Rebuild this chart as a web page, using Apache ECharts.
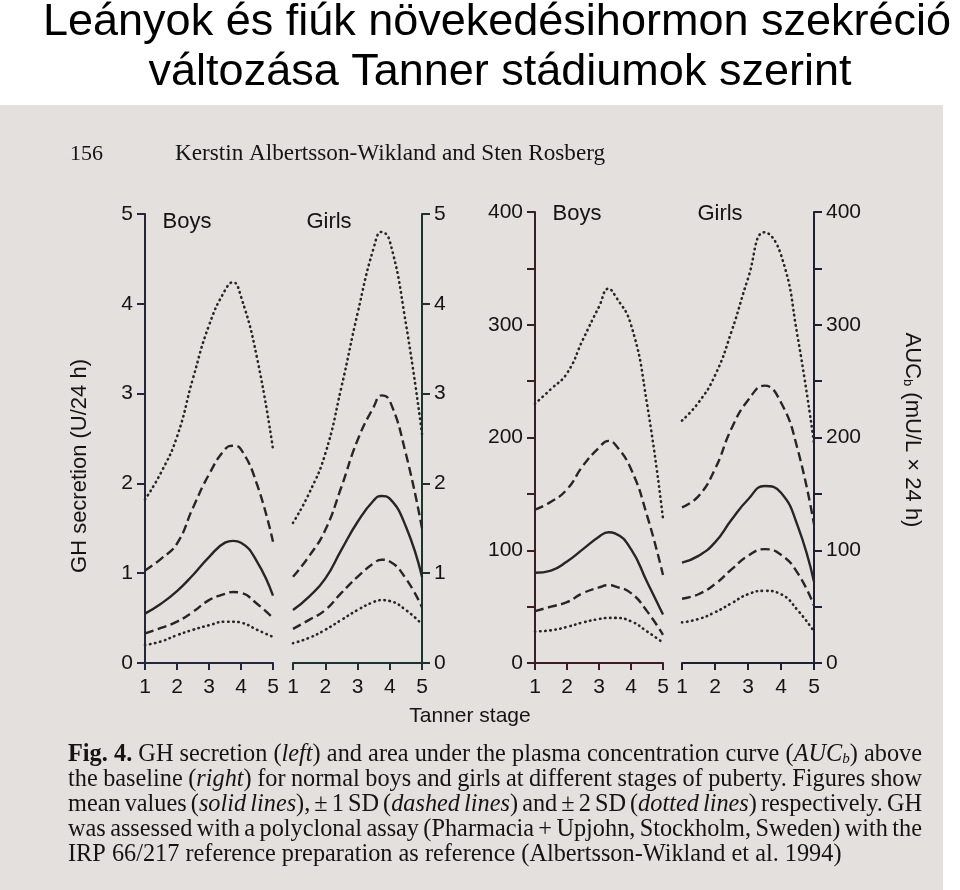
<!DOCTYPE html>
<html>
<head>
<meta charset="utf-8">
<script src="https://cdn.jsdelivr.net/npm/echarts@6/dist/echarts.min.js"></script>
<style>
html,body{margin:0;padding:0;background:#ffffff;}
#chart{width:960px;height:890px;}
</style>
</head>
<body>
<div id="chart"></div>
<script>
// ---------------- DATA ----------------
const tannerTicks = [1, 2, 3, 4, 5];

// GH secretion (U/24 h)
const ghStages      = [1, 1.5, 2, 2.5, 3, 3.5, 3.75, 4, 4.5, 5];
const ghBoysPlus2   = [1.82, 2.12, 2.52, 3.17, 3.76, 4.15, 4.24, 4.08, 3.40, 2.38];
const ghBoysPlus1   = [1.03, 1.16, 1.33, 1.73, 2.10, 2.38, 2.42, 2.38, 1.99, 1.35];
const ghBoysMean    = [0.55, 0.66, 0.80, 0.98, 1.18, 1.34, 1.36, 1.34, 1.13, 0.75];
const ghBoysMinus1  = [0.33, 0.39, 0.46, 0.57, 0.70, 0.77, 0.79, 0.78, 0.66, 0.50];
const ghBoysMinus2  = [0.20, 0.24, 0.31, 0.37, 0.42, 0.46, 0.46, 0.45, 0.37, 0.29];

const ghGirlsPlus2  = [1.56, 1.89, 2.33, 3.07, 3.89, 4.62, 4.80, 4.70, 3.78, 2.55];
const ghGirlsPlus1  = [0.96, 1.19, 1.48, 1.96, 2.48, 2.85, 2.98, 2.92, 2.33, 1.50];
const ghGirlsMean   = [0.59, 0.74, 0.94, 1.26, 1.57, 1.81, 1.86, 1.83, 1.52, 0.96];
const ghGirlsMinus1 = [0.38, 0.48, 0.59, 0.78, 0.96, 1.11, 1.15, 1.13, 0.94, 0.62];
const ghGirlsMinus2 = [0.22, 0.28, 0.37, 0.48, 0.59, 0.68, 0.70, 0.69, 0.59, 0.43];

// AUCb (mU/L x 24 h)
const aucBoysStages  = [1, 1.5, 2, 2.5, 3, 3.3, 3.5, 4, 4.5, 5];
const aucBoysPlus2   = [230, 243, 257, 287, 316, 332, 326, 300, 230, 128];
const aucBoysPlus1   = [136, 143, 154, 175, 191, 197, 194, 172, 131, 78];
const aucBoysMean    = [80, 82, 90, 101, 112, 116, 115, 101, 72, 43];
const aucBoysMinus1  = [46, 50, 54, 62, 67, 69, 68, 62, 46, 25];
const aucBoysMinus2  = [28, 29, 32, 36, 39, 40, 40, 37, 28, 18];

const aucGirlsStages = [1, 1.5, 2, 2.5, 3, 3.5, 4, 4.5, 5];
const aucGirlsPlus2  = [215, 231, 255, 294, 341, 382, 362, 290, 195];
const aucGirlsPlus1  = [138, 148, 172, 208, 233, 246, 231, 190, 123];
const aucGirlsMean   = [89, 95, 107, 127, 145, 157, 151, 122, 72];
const aucGirlsMinus1 = [57, 61, 70, 83, 95, 101, 96, 80, 51];
const aucGirlsMinus2 = [36, 39, 45, 53, 61, 64, 61, 47, 28];

// ---------------- TEXTS ----------------
const titleText = 'Leányok és fiúk növekedésihormon szekréció\nváltozása Tanner stádiumok szerint';
const pageNumber = '156';
const authors = 'Kerstin Albertsson-Wikland and Sten Rosberg';
const captionLines = [
  '{b|Fig. 4.} GH secretion ({i|left}) and area under the plasma concentration curve ({i|AUC}{s|b}) above',
  'the baseline ({i|right}) for normal boys and girls at different stages of puberty. Figures show',
  'mean values ({i|solid lines}), ± 1 SD ({i|dashed lines}) and ± 2 SD ({i|dotted lines}) respectively. GH',
  'was assessed with a polyclonal assay (Pharmacia + Upjohn, Stockholm, Sweden) with the',
  'IRP 66/217 reference preparation as reference (Albertsson-Wikland et al. 1994)'
];

// ---------------- STYLE ----------------
const INK = '#141414';
const CURVE = '#262626';
const SANS = '"Liberation Sans", Arial, sans-serif';
const SERIF = '"Liberation Serif", "Times New Roman", serif';
const axisColors = ['#25253d', '#1d3330', '#3b1d2a', '#1f1f33'];

const chart = echarts.init(document.getElementById('chart'), null, {renderer: 'canvas'});

const ctx = document.createElement('canvas').getContext('2d');
function measure(font, txt) { ctx.font = font; return ctx.measureText(txt).width; }

function lineStyle(kind) {
  if (kind === 'solid') return {color: CURVE, width: 2.4, type: 'solid'};
  if (kind === 'dashed') return {color: CURVE, width: 2.4, type: [9, 4.5], cap: 'butt'};
  return {color: CURVE, width: 2.6, type: [0.5, 4.6], cap: 'round'};
}
function mk(xs, ys, idx, kind) {
  return {
    type: 'line', xAxisIndex: idx, yAxisIndex: idx,
    data: xs.map((x, i) => [x, ys[i]]),
    smooth: 0.5, symbol: 'none', showSymbol: false, silent: true,
    lineStyle: lineStyle(kind), z: 3
  };
}

const series = [
  mk(ghStages, ghBoysPlus2, 0, 'dotted'), mk(ghStages, ghBoysPlus1, 0, 'dashed'), mk(ghStages, ghBoysMean, 0, 'solid'),
  mk(ghStages, ghBoysMinus1, 0, 'dashed'), mk(ghStages, ghBoysMinus2, 0, 'dotted'),
  mk(ghStages, ghGirlsPlus2, 1, 'dotted'), mk(ghStages, ghGirlsPlus1, 1, 'dashed'), mk(ghStages, ghGirlsMean, 1, 'solid'),
  mk(ghStages, ghGirlsMinus1, 1, 'dashed'), mk(ghStages, ghGirlsMinus2, 1, 'dotted'),
  mk(aucBoysStages, aucBoysPlus2, 2, 'dotted'), mk(aucBoysStages, aucBoysPlus1, 2, 'dashed'), mk(aucBoysStages, aucBoysMean, 2, 'solid'),
  mk(aucBoysStages, aucBoysMinus1, 2, 'dashed'), mk(aucBoysStages, aucBoysMinus2, 2, 'dotted'),
  mk(aucGirlsStages, aucGirlsPlus2, 3, 'dotted'), mk(aucGirlsStages, aucGirlsPlus1, 3, 'dashed'), mk(aucGirlsStages, aucGirlsMean, 3, 'solid'),
  mk(aucGirlsStages, aucGirlsMinus1, 3, 'dashed'), mk(aucGirlsStages, aucGirlsMinus2, 3, 'dotted')
];

const grids = [
  {left: 145, width: 128, top: 214, height: 449},
  {left: 293, width: 129, top: 214, height: 449},
  {left: 535, width: 128, top: 212, height: 451},
  {left: 682, width: 132, top: 212, height: 451}
];

function xAx(i) {
  return {
    gridIndex: i, type: 'value', min: tannerTicks[0], max: tannerTicks[tannerTicks.length - 1], interval: 1,
    axisLine: {show: true, onZero: true, lineStyle: {color: axisColors[i], width: 2}},
    axisTick: {show: true, length: 7, lineStyle: {color: axisColors[i], width: 2}},
    axisLabel: {color: INK, fontSize: 21, fontFamily: SANS, margin: 14,
      formatter: v => (tannerTicks.indexOf(v) >= 0 ? String(v) : '')},
    splitLine: {show: false}
  };
}
function yAx(i, max, interval, pos, labelEvery) {
  return {
    gridIndex: i, type: 'value', min: 0, max: max, interval: interval, position: pos,
    axisLine: {show: true, lineStyle: {color: axisColors[i], width: 2}},
    axisTick: {show: true, length: 8, lineStyle: {color: axisColors[i], width: 2}},
    axisLabel: {show: true, color: INK, fontSize: 21, fontFamily: SANS, margin: 12,
      formatter: v => (v % labelEvery === 0 ? String(v) : '')},
    splitLine: {show: false}
  };
}

// caption: parse, measure, justify
function parseLine(str) {
  const re = /\{(\w+)\|([^}]*)\}|([^{]+)/g;
  const segs = []; let m;
  while ((m = re.exec(str)) !== null) {
    if (m[1]) segs.push({st: m[1], t: m[2]}); else segs.push({st: 'r', t: m[3]});
  }
  const words = [[]];
  segs.forEach(s => {
    const parts = s.t.split(' ');
    parts.forEach((p, k) => {
      if (k > 0) words.push([]);
      if (p.length) words[words.length - 1].push({st: s.st, t: p});
    });
  });
  return words.filter(w => w.length);
}
function segFont(st, fs) {
  if (st === 'b') return 'bold ' + fs + 'px ' + SERIF;
  if (st === 'i') return 'italic ' + fs + 'px ' + SERIF;
  if (st === 's') return 'italic ' + Math.round(fs * 0.62) + 'px ' + SERIF;
  return fs + 'px ' + SERIF;
}
function wordWidth(w, fs) { return w.reduce((a, s) => a + measure(segFont(s.st, fs), s.t), 0); }

const parsed = captionLines.map(parseLine);
function lineNatural(words, fs) {
  return words.reduce((a, w) => a + wordWidth(w, fs), 0) + (words.length - 1) * measure(fs + 'px ' + SERIF, ' ');
}
const capX0 = 68, capX1 = 922, lastLineEnd = 842;
let capFs = 22 * (lastLineEnd - capX0) / lineNatural(parsed[4], 22);
capFs = Math.round(capFs * 10) / 10;

function richStyles(fs) {
  return {
    r: {fontFamily: SERIF, fontSize: fs, fill: INK},
    b: {fontFamily: SERIF, fontSize: fs, fontWeight: 'bold', fill: INK},
    i: {fontFamily: SERIF, fontSize: fs, fontStyle: 'italic', fill: INK},
    s: {fontFamily: SERIF, fontSize: Math.round(fs * 0.62), fontStyle: 'italic', fill: INK, verticalAlign: 'bottom', lineHeight: 12}
  };
}

const capY = [755, 780, 805, 830, 855];
const captionEls = [];
parsed.forEach((words, li) => {
  const widths = words.map(w => wordWidth(w, capFs));
  const sum = widths.reduce((a, b) => a + b, 0);
  const gap = li < 4 ? (capX1 - capX0 - sum) / (words.length - 1) : measure(capFs + 'px ' + SERIF, ' ');
  let x = capX0;
  words.forEach((w, k) => {
    captionEls.push({
      type: 'text', x: x, y: capY[li], silent: true,
      style: {
        text: w.map(s => '{' + s.st + '|' + s.t + '}').join(''),
        rich: richStyles(capFs), fill: INK,
        textAlign: 'left', align: 'left', textVerticalAlign: 'middle', verticalAlign: 'middle'
      }
    });
    x += widths[k] + gap;
  });
});

function txt(text, x, y, font, opts) {
  opts = opts || {};
  return Object.assign({
    type: 'text', x: x, y: y, silent: true,
    style: Object.assign({
      text: text, font: font, fill: INK,
      textAlign: opts.align || 'center', align: opts.align || 'center',
      textVerticalAlign: 'middle', verticalAlign: 'middle'
    }, opts.style || {})
  }, opts.el || {});
}

const authorFs = Math.round(22 * (606 - 175) / measure('22px ' + SERIF, authors) * 10) / 10;

const graphics = [
  {type: 'rect', shape: {x: 0, y: 105, width: 943, height: 785}, style: {fill: '#e4e0de'}, z: -100, silent: true},
  txt(titleText.split('\n')[0], 497, 23, '45px ' + SANS, {style: {fill: '#000'}}),
  txt(titleText.split('\n')[1], 500, 73, '45px ' + SANS, {style: {fill: '#000'}}),
  txt(pageNumber, 70, 154, '22px ' + SERIF, {align: 'left'}),
  txt(authors, 175, 154, authorFs + 'px ' + SERIF, {align: 'left'}),
  txt('Boys', 187, 222, '22px ' + SANS),
  txt('Girls', 329, 222, '22px ' + SANS),
  txt('Boys', 577, 214, '22px ' + SANS),
  txt('Girls', 720, 214, '22px ' + SANS),
  txt('Tanner stage', 470, 716, '21px ' + SANS),
  {type: 'text', x: 80, y: 466, rotation: Math.PI / 2, silent: true,
   style: {text: 'GH secretion (U/24 h)', font: '22px ' + SANS, fill: INK,
     textAlign: 'center', align: 'center', textVerticalAlign: 'middle', verticalAlign: 'middle'}},
  {type: 'text', x: 912, y: 430, rotation: -Math.PI / 2, silent: true,
   style: {text: '{a|AUC}{s|b}{a| (mU/L × 24 h)}', fill: INK,
     rich: {a: {fontFamily: SANS, fontSize: 22, fill: INK},
            s: {fontFamily: SANS, fontSize: 13, fill: INK, verticalAlign: 'bottom', lineHeight: 12}},
     textAlign: 'center', align: 'center', textVerticalAlign: 'middle', verticalAlign: 'middle'}}
].concat(captionEls);

chart.setOption({
  backgroundColor: '#ffffff',
  animation: false,
  grid: grids,
  xAxis: [xAx(0), xAx(1), xAx(2), xAx(3)],
  yAxis: [yAx(0, 5, 1, 'left', 1), yAx(1, 5, 1, 'right', 1), yAx(2, 400, 50, 'left', 100), yAx(3, 400, 50, 'right', 100)],
  series: series,
  graphic: {elements: graphics}
});
</script>
</body>
</html>
